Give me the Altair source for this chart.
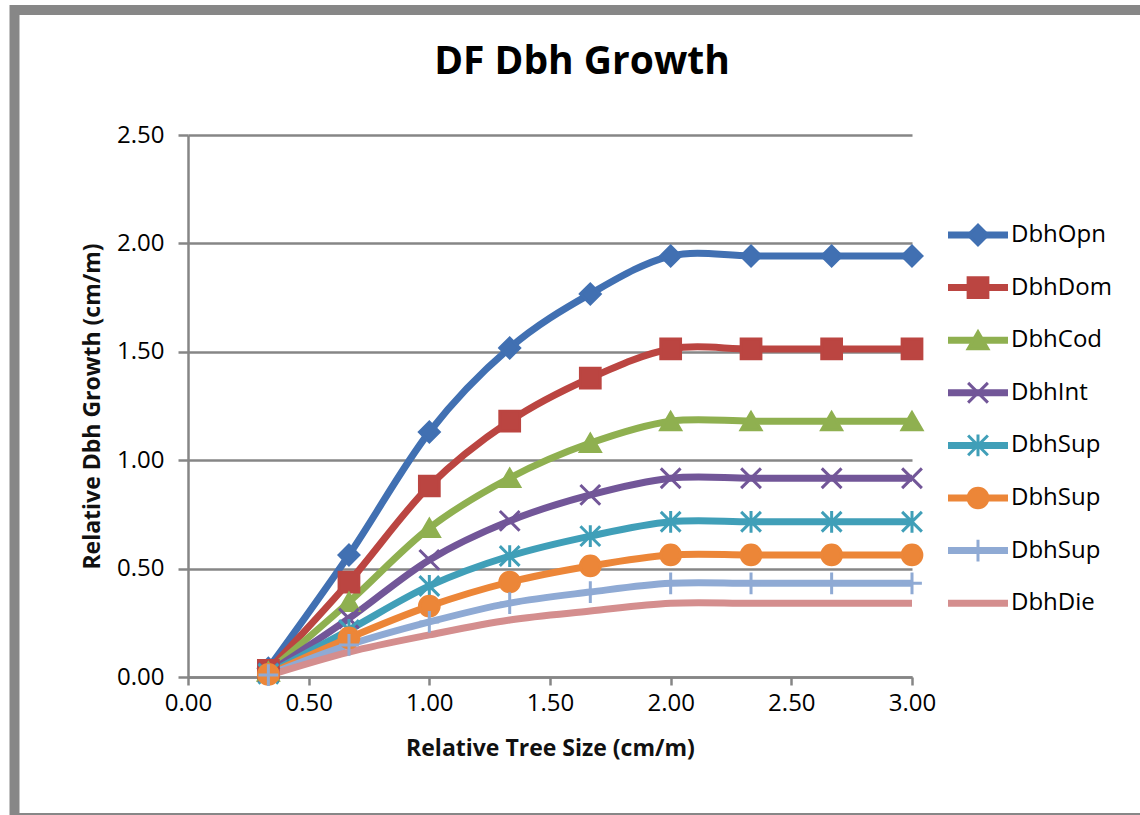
import altair as alt
import pandas as pd

# ---- data ----
chart_title = ["DF Dbh Growth"]
x_vals = [0.333, 0.667, 1.0, 1.333, 1.667, 2.0, 2.333, 2.667, 3.0]
series_names = ["DbhOpn", "DbhDom", "DbhCod", "DbhInt", "DbhSup", "DbhSup", "DbhSup", "DbhDie"]
series_keys = ["k1", "k2", "k3", "k4", "k5", "k6", "k7", "k8"]
dbh_opn = [0.040, 0.563, 1.130, 1.518, 1.767, 1.942, 1.942, 1.942, 1.942]
dbh_dom = [0.031, 0.438, 0.881, 1.180, 1.379, 1.513, 1.513, 1.513, 1.513]
dbh_cod = [0.024, 0.346, 0.687, 0.918, 1.079, 1.180, 1.180, 1.180, 1.180]
dbh_int = [0.019, 0.270, 0.540, 0.720, 0.840, 0.917, 0.917, 0.917, 0.917]
dbh_sup1 = [0.015, 0.217, 0.420, 0.558, 0.650, 0.716, 0.716, 0.716, 0.716]
dbh_sup2 = [0.012, 0.180, 0.327, 0.438, 0.512, 0.563, 0.563, 0.563, 0.563]
dbh_sup3 = [0.009, 0.148, 0.254, 0.341, 0.392, 0.432, 0.432, 0.432, 0.432]
dbh_die = [0.007, 0.115, 0.194, 0.263, 0.304, 0.340, 0.340, 0.340, 0.340]
all_series = [dbh_opn, dbh_dom, dbh_cod, dbh_int, dbh_sup1, dbh_sup2, dbh_sup3, dbh_die]

colors = ["#4170B2", "#BB4541", "#8FB050", "#725698", "#409FB8", "#EC8638", "#8FAAD4", "#D48E8E"]
shapes = [
    "diamond",
    "square",
    "triangle-up",
    "M-1,-1L1,1M-1,1L1,-1",
    "M-1,-1L1,1M-1,1L1,-1M0,-1.1L0,1.1",
    "circle",
    "M0,-1.1L0,1.1M-1,0L1,0",
]

rows = []
for key, name, vals in zip(series_keys, series_names, all_series):
    for xv, yv in zip(x_vals, vals):
        rows.append({"key": key, "name": name, "x": xv, "y": yv})
df = pd.DataFrame(rows)
df_pts = df[df["key"] != "k8"]

leg = pd.DataFrame({"key": series_keys, "name": series_names, "idx": list(range(len(series_keys)))})
leg_pts = leg[leg["key"] != "k8"]

FONT = "Open Sans"
W, H = 724, 542
LEFT, TOP = 188, 135

color_scale = alt.Scale(domain=series_keys, range=colors)
shape_scale = alt.Scale(domain=series_keys[:7], range=shapes)

x_enc = alt.X("x:Q", scale=alt.Scale(domain=[0, 3], nice=False),
              axis=alt.Axis(values=[0, 0.5, 1, 1.5, 2, 2.5, 3], format=".2f", grid=False,
                            title="Relative Tree Size (cm/m)", tickSize=8, labelPadding=6,
                            labelFlush=False, titlePadding=22))
y_enc = alt.Y("y:Q", scale=alt.Scale(domain=[0, 2.5], nice=False),
              axis=alt.Axis(values=[0, 0.5, 1, 1.5, 2, 2.5], format=".2f", grid=True,
                            title="Relative Dbh Growth (cm/m)", tickSize=10, labelPadding=14,
                            labelFlush=False, titlePadding=12))

lines = alt.Chart(df).mark_line(strokeWidth=7, interpolate="cardinal").encode(
    x=x_enc, y=y_enc,
    color=alt.Color("key:N", scale=color_scale, legend=None),
    detail="key:N",
)
points = alt.Chart(df_pts).mark_point(filled=True, size=390, strokeWidth=3, opacity=1).encode(
    x="x:Q", y="y:Q",
    color=alt.Color("key:N", scale=color_scale, legend=None),
    stroke=alt.Stroke("key:N", scale=color_scale, legend=None),
    shape=alt.Shape("key:N", scale=shape_scale, legend=None),
)
main = alt.layer(lines, points)

# legend, drawn from the series list
leg_y = alt.Y("idx:Q", scale=alt.Scale(domain=[-1.901, 8.403], reverse=True, nice=False, zero=False), axis=None)
leg_lines = alt.Chart(leg).mark_rule(strokeWidth=7).encode(
    x=alt.value(760), x2=alt.value(820), y=leg_y,
    color=alt.Color("key:N", scale=color_scale, legend=None),
)
leg_points = alt.Chart(leg_pts).mark_point(filled=True, size=390, strokeWidth=3, opacity=1).encode(
    x=alt.value(790), y=leg_y,
    color=alt.Color("key:N", scale=color_scale, legend=None),
    stroke=alt.Stroke("key:N", scale=color_scale, legend=None),
    shape=alt.Shape("key:N", scale=shape_scale, legend=None),
)
leg_text = alt.Chart(leg).mark_text(align="left", baseline="middle", font=FONT, fontSize=24,
                                    color="#000000").encode(
    x=alt.value(823), y=leg_y, text="name:N",
)
legend = alt.layer(leg_lines, leg_points, leg_text)

frame = alt.Chart(alt.Data(values=[{"a": 1}])).mark_rect(
    fillOpacity=0, stroke="#878787", strokeWidth=10
).encode(
    x=alt.value(14.5 - LEFT), x2=alt.value(1150 - LEFT),
    y=alt.value(10 - TOP), y2=alt.value(818 - TOP),
)

title = alt.Chart(pd.DataFrame({"t": chart_title})).mark_text(
    font=FONT, fontSize=39, fontWeight="bold", color="#000000",
    align="center", baseline="alphabetic",
).encode(x=alt.value(582 - LEFT), y=alt.value(74 - TOP), text="t:N")

chart = alt.layer(frame, title, main, legend).resolve_scale(y="independent").properties(
    width=W, height=H,
    autosize=alt.AutoSizeParams(type="none"),
    padding={"left": LEFT, "top": TOP, "right": 1140 - LEFT - W, "bottom": 815 - TOP - H},
    background="white",
).configure_view(stroke=None).configure_axis(
    labelFont=FONT, labelFontSize=24, labelColor="#000000",
    titleFont=FONT, titleFontSize=23, titleFontWeight="bold", titleColor="#111111",
    domainColor="#868686", domainWidth=2.5, tickColor="#868686", tickWidth=2.5,
    gridColor="#868686", gridWidth=2.5,
)

chart.save("out.html", embed_options={"renderer": "svg", "actions": False})
